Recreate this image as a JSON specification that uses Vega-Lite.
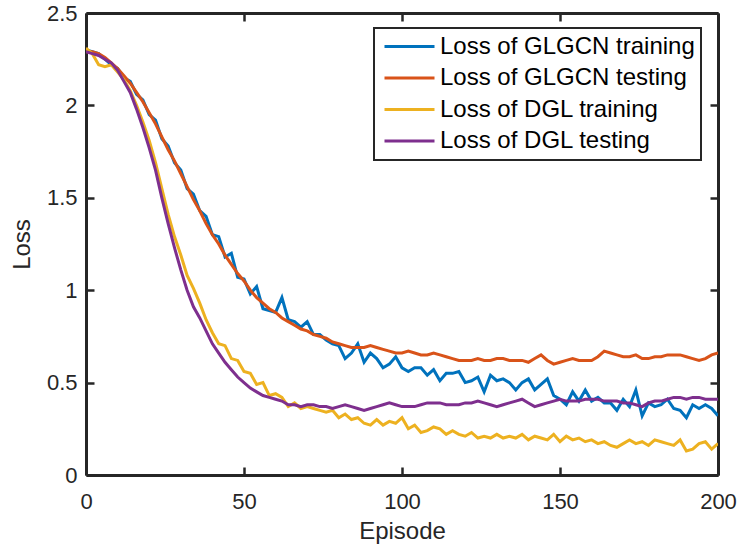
{
  "$schema": "https://vega.github.io/schema/vega-lite/v6.json",
  "width": 632,
  "height": 462,
  "autosize": "none",
  "padding": {"left": 86, "top": 13, "right": 20, "bottom": 76},
  "background": "white",
  "config": {
    "view": {"stroke": null},
    "font": "Liberation Sans",
    "axis": {"grid": false, "ticks": true, "domainColor": "#262626", "domainWidth": 3, "tickColor": "#262626", "tickWidth": 2.5, "tickSize": 8, "tickOpacity": 1, "labelColor": "#262626", "titleColor": "#262626", "labelFont": "Liberation Sans", "titleFont": "Liberation Sans", "labelFontSize": 22, "titleFontSize": 24, "titleFontWeight": "normal", "labelFlush": false, "labelOverlap": false},
    "legend": {"strokeWidth": 2}
  },
  "data": {"values": [
    {"e":0,"a":2.30,"b":2.29,"c":2.31,"d":2.29},
    {"e":2,"a":2.29,"b":2.29,"c":2.28,"d":2.28},
    {"e":4,"a":2.28,"b":2.28,"c":2.22,"d":2.27},
    {"e":6,"a":2.25,"b":2.26,"c":2.21,"d":2.25},
    {"e":8,"a":2.22,"b":2.23,"c":2.22,"d":2.23},
    {"e":10,"a":2.20,"b":2.20,"c":2.18,"d":2.19},
    {"e":12,"a":2.15,"b":2.16,"c":2.14,"d":2.13},
    {"e":14,"a":2.13,"b":2.12,"c":2.08,"d":2.07},
    {"e":16,"a":2.06,"b":2.07,"c":2.00,"d":1.98},
    {"e":18,"a":2.03,"b":2.02,"c":1.91,"d":1.88},
    {"e":20,"a":1.95,"b":1.96,"c":1.81,"d":1.77},
    {"e":22,"a":1.92,"b":1.90,"c":1.69,"d":1.65},
    {"e":24,"a":1.82,"b":1.83,"c":1.55,"d":1.50},
    {"e":26,"a":1.78,"b":1.76,"c":1.41,"d":1.36},
    {"e":28,"a":1.69,"b":1.70,"c":1.29,"d":1.23},
    {"e":30,"a":1.65,"b":1.63,"c":1.19,"d":1.11},
    {"e":32,"a":1.55,"b":1.56,"c":1.08,"d":1.00},
    {"e":34,"a":1.52,"b":1.49,"c":1.01,"d":0.91},
    {"e":36,"a":1.43,"b":1.43,"c":0.93,"d":0.85},
    {"e":38,"a":1.40,"b":1.36,"c":0.84,"d":0.78},
    {"e":40,"a":1.30,"b":1.30,"c":0.77,"d":0.71},
    {"e":42,"a":1.29,"b":1.25,"c":0.71,"d":0.66},
    {"e":44,"a":1.18,"b":1.19,"c":0.70,"d":0.61},
    {"e":46,"a":1.20,"b":1.14,"c":0.63,"d":0.57},
    {"e":48,"a":1.07,"b":1.09,"c":0.62,"d":0.53},
    {"e":50,"a":1.06,"b":1.05,"c":0.56,"d":0.50},
    {"e":52,"a":0.98,"b":1.00,"c":0.55,"d":0.47},
    {"e":54,"a":1.02,"b":0.96,"c":0.49,"d":0.45},
    {"e":56,"a":0.90,"b":0.93,"c":0.50,"d":0.43},
    {"e":58,"a":0.89,"b":0.90,"c":0.43,"d":0.42},
    {"e":60,"a":0.88,"b":0.88,"c":0.44,"d":0.41},
    {"e":62,"a":0.96,"b":0.85,"c":0.42,"d":0.40},
    {"e":64,"a":0.84,"b":0.83,"c":0.37,"d":0.38},
    {"e":66,"a":0.83,"b":0.81,"c":0.39,"d":0.38},
    {"e":68,"a":0.80,"b":0.79,"c":0.36,"d":0.37},
    {"e":70,"a":0.83,"b":0.78,"c":0.37,"d":0.38},
    {"e":72,"a":0.76,"b":0.76,"c":0.36,"d":0.38},
    {"e":74,"a":0.76,"b":0.75,"c":0.35,"d":0.37},
    {"e":76,"a":0.73,"b":0.74,"c":0.34,"d":0.37},
    {"e":78,"a":0.71,"b":0.72,"c":0.35,"d":0.36},
    {"e":80,"a":0.70,"b":0.71,"c":0.31,"d":0.37},
    {"e":82,"a":0.63,"b":0.70,"c":0.33,"d":0.38},
    {"e":84,"a":0.66,"b":0.69,"c":0.30,"d":0.37},
    {"e":86,"a":0.71,"b":0.69,"c":0.31,"d":0.36},
    {"e":88,"a":0.61,"b":0.69,"c":0.28,"d":0.35},
    {"e":90,"a":0.66,"b":0.70,"c":0.27,"d":0.36},
    {"e":92,"a":0.63,"b":0.69,"c":0.30,"d":0.37},
    {"e":94,"a":0.58,"b":0.68,"c":0.27,"d":0.38},
    {"e":96,"a":0.60,"b":0.67,"c":0.29,"d":0.39},
    {"e":98,"a":0.64,"b":0.66,"c":0.28,"d":0.38},
    {"e":100,"a":0.58,"b":0.66,"c":0.31,"d":0.37},
    {"e":102,"a":0.56,"b":0.67,"c":0.25,"d":0.37},
    {"e":104,"a":0.58,"b":0.66,"c":0.27,"d":0.37},
    {"e":106,"a":0.58,"b":0.65,"c":0.23,"d":0.38},
    {"e":108,"a":0.54,"b":0.65,"c":0.24,"d":0.39},
    {"e":110,"a":0.57,"b":0.66,"c":0.26,"d":0.39},
    {"e":112,"a":0.51,"b":0.65,"c":0.25,"d":0.39},
    {"e":114,"a":0.55,"b":0.64,"c":0.22,"d":0.38},
    {"e":116,"a":0.55,"b":0.63,"c":0.24,"d":0.38},
    {"e":118,"a":0.56,"b":0.62,"c":0.22,"d":0.38},
    {"e":120,"a":0.50,"b":0.62,"c":0.21,"d":0.39},
    {"e":122,"a":0.51,"b":0.62,"c":0.23,"d":0.39},
    {"e":124,"a":0.53,"b":0.63,"c":0.20,"d":0.40},
    {"e":126,"a":0.45,"b":0.62,"c":0.21,"d":0.39},
    {"e":128,"a":0.54,"b":0.62,"c":0.20,"d":0.38},
    {"e":130,"a":0.51,"b":0.63,"c":0.22,"d":0.37},
    {"e":132,"a":0.52,"b":0.63,"c":0.20,"d":0.38},
    {"e":134,"a":0.50,"b":0.62,"c":0.21,"d":0.39},
    {"e":136,"a":0.46,"b":0.62,"c":0.20,"d":0.40},
    {"e":138,"a":0.50,"b":0.62,"c":0.22,"d":0.41},
    {"e":140,"a":0.52,"b":0.61,"c":0.19,"d":0.39},
    {"e":142,"a":0.46,"b":0.63,"c":0.21,"d":0.37},
    {"e":144,"a":0.49,"b":0.65,"c":0.20,"d":0.38},
    {"e":146,"a":0.52,"b":0.62,"c":0.19,"d":0.39},
    {"e":148,"a":0.43,"b":0.60,"c":0.22,"d":0.40},
    {"e":150,"a":0.41,"b":0.61,"c":0.18,"d":0.41},
    {"e":152,"a":0.38,"b":0.62,"c":0.21,"d":0.40},
    {"e":154,"a":0.45,"b":0.63,"c":0.19,"d":0.40},
    {"e":156,"a":0.40,"b":0.62,"c":0.20,"d":0.40},
    {"e":158,"a":0.46,"b":0.62,"c":0.18,"d":0.41},
    {"e":160,"a":0.40,"b":0.62,"c":0.19,"d":0.41},
    {"e":162,"a":0.42,"b":0.64,"c":0.17,"d":0.41},
    {"e":164,"a":0.39,"b":0.67,"c":0.18,"d":0.40},
    {"e":166,"a":0.39,"b":0.66,"c":0.16,"d":0.40},
    {"e":168,"a":0.35,"b":0.65,"c":0.15,"d":0.40},
    {"e":170,"a":0.41,"b":0.64,"c":0.17,"d":0.39},
    {"e":172,"a":0.37,"b":0.64,"c":0.19,"d":0.39},
    {"e":174,"a":0.46,"b":0.65,"c":0.17,"d":0.38},
    {"e":176,"a":0.32,"b":0.63,"c":0.18,"d":0.37},
    {"e":178,"a":0.39,"b":0.63,"c":0.16,"d":0.39},
    {"e":180,"a":0.37,"b":0.64,"c":0.19,"d":0.40},
    {"e":182,"a":0.38,"b":0.64,"c":0.18,"d":0.40},
    {"e":184,"a":0.41,"b":0.65,"c":0.17,"d":0.41},
    {"e":186,"a":0.36,"b":0.65,"c":0.16,"d":0.42},
    {"e":188,"a":0.35,"b":0.65,"c":0.19,"d":0.42},
    {"e":190,"a":0.31,"b":0.64,"c":0.13,"d":0.41},
    {"e":192,"a":0.38,"b":0.63,"c":0.14,"d":0.42},
    {"e":194,"a":0.36,"b":0.62,"c":0.17,"d":0.42},
    {"e":196,"a":0.38,"b":0.63,"c":0.18,"d":0.41},
    {"e":198,"a":0.36,"b":0.65,"c":0.14,"d":0.41},
    {"e":200,"a":0.32,"b":0.66,"c":0.17,"d":0.41}
  ]},
  "transform": [{"fold": ["a", "b", "c", "d"], "as": ["series", "loss"]}],
  "layer": [
    {
      "mark": {"type": "line", "strokeWidth": 3, "clip": true},
      "encoding": {
        "x": {"field": "e", "type": "quantitative", "scale": {"domain": [0, 200], "nice": false, "zero": false},
          "axis": {"orient": "bottom", "values": [0, 50, 100, 150, 200], "title": "Episode", "ticks": true, "tickSize": -8, "tickColor": "#262626", "tickWidth": 2.5, "labelPadding": 24, "titlePadding": 7}},
        "y": {"field": "loss", "type": "quantitative", "scale": {"domain": [0, 2.5], "nice": false},
          "axis": {"orient": "left", "values": [0, 0.5, 1, 1.5, 2, 2.5], "format": "~g", "title": "Loss", "ticks": true, "tickSize": -8, "tickColor": "#262626", "tickWidth": 2.5, "labelPadding": 17, "titlePadding": 12}},
        "color": {"field": "series", "type": "nominal",
          "scale": {"domain": ["a", "b", "c", "d"], "range": ["#0072BD", "#D95319", "#EDB120", "#7E2F8E"]},
          "legend": {"orient": "none", "legendX": 288, "legendY": 15, "title": null, "symbolType": "stroke", "symbolSize": 2500, "symbolStrokeWidth": 3, "symbolOffset": 3, "labelFontSize": 24, "labelFont": "Liberation Sans", "labelColor": "#000000", "labelOffset": 4, "labelLimit": 400, "strokeColor": "#262626", "fillColor": "white", "padding": 6, "clipHeight": 25, "rowPadding": 6.5,
            "labelExpr": "datum.label == 'a' ? 'Loss of GLGCN training' : datum.label == 'b' ? 'Loss of GLGCN testing' : datum.label == 'c' ? 'Loss of DGL training' : 'Loss of DGL testing'"}}
      }
    },
    {
      "mark": {"type": "line", "strokeOpacity": 0},
      "encoding": {
        "x": {"field": "e", "type": "quantitative", "scale": {"domain": [0, 200], "nice": false, "zero": false},
          "axis": {"orient": "top", "values": [0, 50, 100, 150, 200], "labels": false, "title": null, "ticks": true, "tickSize": -8, "tickColor": "#262626", "tickWidth": 2.5}},
        "y": {"field": "loss", "type": "quantitative", "scale": {"domain": [0, 2.5], "nice": false},
          "axis": {"orient": "right", "values": [0, 0.5, 1, 1.5, 2, 2.5], "labels": false, "title": null, "ticks": true, "tickSize": -8, "tickColor": "#262626", "tickWidth": 2.5}},
        "detail": {"field": "series", "type": "nominal"}
      }
    }
  ],
  "resolve": {"axis": {"x": "independent", "y": "independent"}}
}
